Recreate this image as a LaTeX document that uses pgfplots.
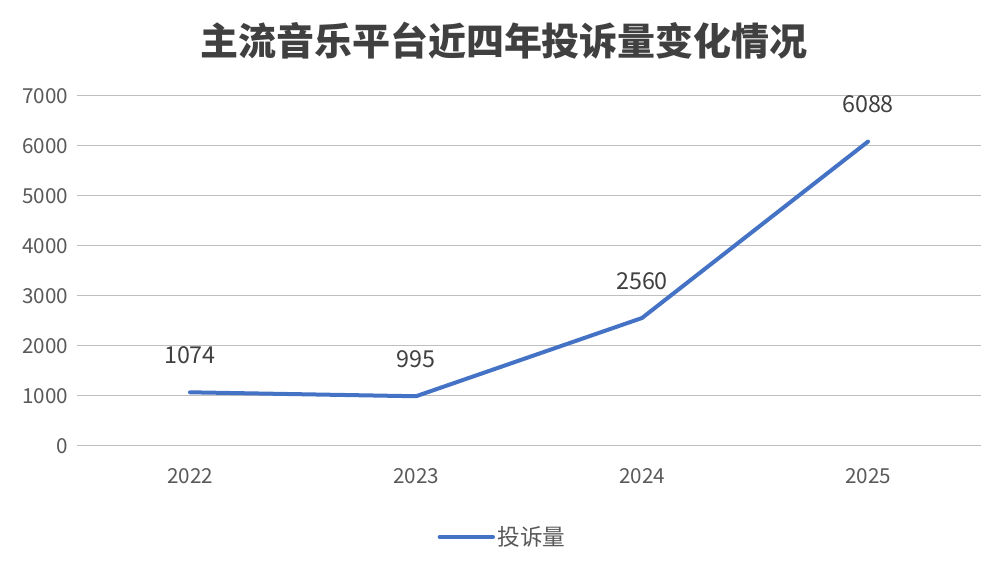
\documentclass[border=0pt]{standalone}
\usepackage{pgfplots}
\pgfplotsset{compat=1.18}
\usepackage{fontspec}
\setmainfont{Noto Sans CJK SC}
\newfontfamily\cjk{Noto Sans CJK SC}
\definecolor{line}{HTML}{4472C4}
\definecolor{grid}{HTML}{D9D9D9}
\definecolor{tick}{HTML}{595959}
\definecolor{lab}{HTML}{404040}
\begin{document}
\begin{tikzpicture}
\useasboundingbox (0,0) rectangle (756pt,426pt);
\node[font=\cjk\fontsize{28.5pt}{32pt}\selectfont\bfseries, text=lab] at (378pt,395.5pt) {主流音乐平台近四年投诉量变化情况};
\begin{axis}[
  at={(57.75pt,91.5pt)}, anchor=south west,
  scale only axis, width=678pt, height=262.5pt,
  xmin=-0.5, xmax=3.5, ymin=0, ymax=7000,
  xtick={0,1,2,3}, xticklabels={2022,2023,2024,2025},
  ytick={0,1000,...,7000},
  axis line style={draw=none},
  major tick length=0pt, tick style={draw=none},
  xmajorgrids=false, ymajorgrids=true, grid style={grid, line width=0.75pt},
  /pgf/number format/assume math mode=true,
  /pgf/number format/1000 sep={},
  tick label style={font=\fontsize{15.5pt}{18pt}\selectfont, text=tick},
  yticklabel style={xshift=-3pt},
  xticklabel style={yshift=-13pt},
  legend style={at={(0.5,-0.26)}, xshift=-19.5pt, anchor=center, draw=none, font=\fontsize{17pt}{20pt}\selectfont, text=tick, legend columns=1},
  legend image code/.code={\draw[line, line width=3pt, line cap=round] (0pt,0pt) -- (40pt,0pt);},
  nodes near coords, every node near coord/.append style={font=\fontsize{17.5pt}{20pt}\selectfont, text=lab, anchor=center, yshift=27.75pt},
  point meta=explicit symbolic,
]
\addplot[line, line width=3pt, line join=round, line cap=round, mark=none] coordinates {
  (0,1074) [1074]
  (1,995) [995]
  (2,2560) [2560]
  (3,6088) [6088]
};
\addlegendentry{投诉量}
\end{axis}
\end{tikzpicture}
\end{document}
